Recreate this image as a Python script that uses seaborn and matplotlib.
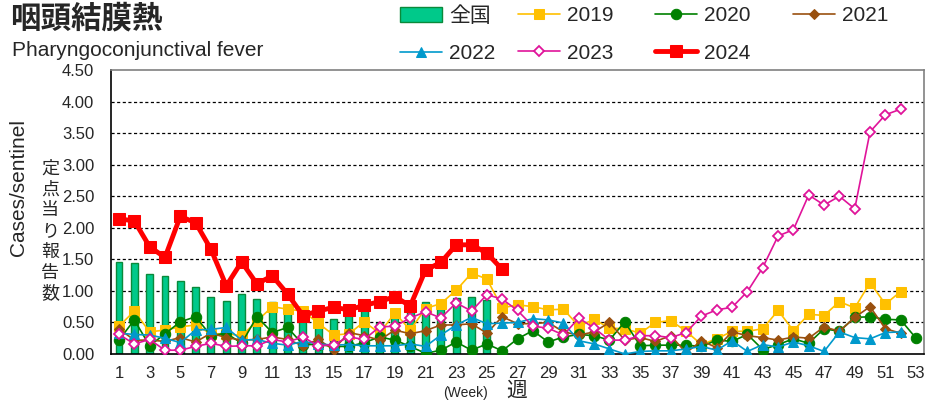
import numpy as np
import pandas as pd
import seaborn as sns
import matplotlib.pyplot as plt
from matplotlib.ticker import MultipleLocator, FormatStrFormatter

# weekly cases per sentinel
weeks = list(range(1, 54))

national = [1.45, 1.44, 1.27, 1.24, 1.15, 1.06, 0.90, 0.84, 0.95, 0.87,
            0.83, 0.72, 0.55, 0.57, 0.55, 0.63, 0.70, 0.49, 0.58, 0.68,
            0.82, 0.72, 0.88, 0.91, 0.86]

y2019 = [0.44, 0.68, 0.35, 0.38, 0.43, 0.46, 0.32, 0.32, 0.29, 0.52,
         0.75, 0.71, 0.68, 0.49, 0.30, 0.32, 0.51, 0.33, 0.65, 0.38,
         0.72, 0.80, 1.01, 1.28, 1.19, 0.73, 0.78, 0.75, 0.70, 0.71,
         0.44, 0.55, 0.41, 0.40, 0.33, 0.50, 0.53, 0.36, 0.15, 0.24,
         0.36, 0.36, 0.40, 0.69, 0.37, 0.63, 0.61, 0.83, 0.73, 1.13,
         0.79, 0.99]

y2020 = [0.22, 0.54, 0.13, 0.32, 0.51, 0.59, 0.29, 0.33, 0.17, 0.59,
         0.34, 0.42, 0.15, 0.15, 0.12, 0.12, 0.18, 0.27, 0.22, 0.12,
         0.01, 0.06, 0.19, 0.06, 0.16, 0.05, 0.24, 0.37, 0.19, 0.27,
         0.31, 0.29, 0.22, 0.51, 0.13, 0.14, 0.14, 0.14, 0.12, 0.22,
         0.20, 0.31, 0.07, 0.15, 0.24, 0.17, 0.40, 0.36, 0.58, 0.59,
         0.55, 0.54, 0.25]

y2021 = [0.40, 0.22, 0.22, 0.20, 0.26, 0.19, 0.33, 0.26, 0.22, 0.23,
         0.27, 0.23, 0.13, 0.23, 0.07, 0.34, 0.29, 0.22, 0.38, 0.32,
         0.37, 0.46, 0.46, 0.48, 0.33, 0.59, 0.48, 0.48, 0.50, 0.35,
         0.30, 0.35, 0.50, 0.22, 0.26, 0.20, 0.29, 0.02, 0.21, 0.10,
         0.35, 0.29, 0.26, 0.22, 0.27, 0.25, 0.43, 0.36, 0.58, 0.75,
         0.40, 0.33]

y2022 = [0.33, 0.31, 0.30, 0.25, 0.18, 0.38, 0.39, 0.42, 0.22, 0.23,
         0.17, 0.14, 0.20, 0.16, 0.14, 0.15, 0.13, 0.13, 0.13, 0.16,
         0.12, 0.30, 0.46, 0.58, 0.48, 0.49, 0.50, 0.56, 0.54, 0.49,
         0.21, 0.16, 0.08, 0.00, 0.04, 0.05, 0.05, 0.08, 0.12, 0.06,
         0.21, 0.04, 0.15, 0.11, 0.19, 0.13, 0.04, 0.35, 0.26, 0.24,
         0.34, 0.35]

y2023 = [0.31, 0.16, 0.23, 0.06, 0.06, 0.12, 0.17, 0.12, 0.13, 0.13,
         0.23, 0.19, 0.27, 0.13, 0.15, 0.27, 0.23, 0.43, 0.44, 0.57,
         0.67, 0.57, 0.81, 0.68, 0.94, 0.87, 0.69, 0.44, 0.41, 0.30,
         0.57, 0.41, 0.22, 0.22, 0.29, 0.29, 0.26, 0.34, 0.60, 0.70,
         0.74, 0.99, 1.37, 1.87, 1.97, 2.52, 2.36, 2.50, 2.30, 3.52,
         3.79, 3.88]

y2024 = [2.14, 2.11, 1.70, 1.53, 2.18, 2.08, 1.66, 1.08, 1.46, 1.11,
         1.24, 0.95, 0.61, 0.68, 0.74, 0.70, 0.77, 0.83, 0.91, 0.76,
         1.33, 1.45, 1.73, 1.73, 1.60, 1.34]

sns.set_style('white')
plt.rcParams['font.family'] = ['Liberation Sans', 'Noto Sans CJK JP', 'DejaVu Sans']

fig = plt.figure(figsize=(9.4, 4.05), dpi=100)
ax = fig.add_axes([111 / 940, 1 - 354 / 405, 813 / 940, 284 / 405])

# national bars
sns.barplot(x=weeks[:len(national)], y=national, native_scale=True, width=0.45,
            color='#00C98A', saturation=1, edgecolor='#0A8A3A', linewidth=1,
            ax=ax, label='全国', zorder=2)

# one style per season
styles = {
    '2019': dict(color='#FFC000', marker='s', markersize=7, lw=1.2, mfc='#FFC000', mec='#FFC000'),
    '2020': dict(color='#008000', marker='o', markersize=7.5, lw=1.2, mfc='#008000', mec='#008000'),
    '2021': dict(color='#99500F', marker='D', markersize=5.5, lw=1.2, mfc='#99500F', mec='#99500F'),
    '2022': dict(color='#0099CC', marker='^', markersize=7.5, lw=1.2, mfc='#0099CC', mec='#0099CC'),
    '2023': dict(color='#E0149A', marker='D', markersize=5.5, lw=1.2, mfc='white', mec='#E0149A', mew=1.3),
    '2024': dict(color='#FF0000', marker='s', markersize=8, lw=3.5, mfc='#FF0000', mec='#FF0000'),
}
series = {'2019': y2019, '2020': y2020, '2021': y2021,
          '2022': y2022, '2023': y2023, '2024': y2024}

for i, (name, vals) in enumerate(series.items()):
    df = pd.DataFrame({'week': weeks[:len(vals)], 'value': vals})
    sns.lineplot(data=df, x='week', y='value', ax=ax, label=name,
                 zorder=3 + i, **styles[name])

# axes
ax.set_xlim(0.48, 53.52)
ax.set_ylim(0, 4.5)
ax.set_xticks(weeks)
ax.set_xticklabels([str(w) if w % 2 == 1 else '' for w in weeks])
ax.yaxis.set_major_locator(MultipleLocator(0.5))
ax.yaxis.set_major_formatter(FormatStrFormatter('%.2f'))
ax.tick_params(axis='x', direction='in', length=4, width=0.8, pad=9, labelsize=12)
ax.tick_params(axis='y', length=0, pad=12, labelsize=12)
ax.set_xlabel('')
ax.set_ylabel('')

for y in np.arange(0.5, 4.5, 0.5):
    ax.axhline(y, color='black', lw=0.9, ls=(0, (2.5, 2)), zorder=1)

for side in ['top', 'right']:
    ax.spines[side].set_color('#808080')
for side in ['left', 'bottom']:
    ax.spines[side].set_color('black')
for s in ax.spines.values():
    s.set_linewidth(1.2)

# legend: one small legend per column, as in the original
handles, labels = ax.get_legend_handles_labels()
lookup = dict(zip(labels, handles))
if ax.get_legend() is not None:
    ax.get_legend().remove()
columns = [(['全国', '2022'], 400), (['2019', '2023'], 518),
           (['2020', '2024'], 655), (['2021'], 793)]
for names, x0 in columns:
    fig.legend([lookup[k] for k in names], names, frameon=False,
               loc='upper left', bbox_to_anchor=(x0 / 940, 1 - 6 / 405),
               fontsize=15, handlelength=2.0, handletextpad=0.35,
               labelspacing=0.89, borderpad=0, borderaxespad=0)

# texts
fig.text(10 / 940, 1 - 18 / 405, '咽頭結膜熱', fontsize=22, fontweight='bold',
         family=['Noto Sans CJK JP'], va='center', ha='left')
fig.text(12 / 940, 1 - 50 / 405, 'Pharyngoconjunctival fever', fontsize=15,
         va='center', ha='left')
fig.text(19 / 940, 1 - 188 / 405, 'Cases/sentinel', fontsize=15, rotation=90,
         va='center', ha='center')
fig.text(50 / 940, 1 - 231 / 405, '定\n点\n当\nり\n報\n告\n数', fontsize=13,
         family=['Noto Sans CJK JP'], va='center', ha='center', linespacing=1.2)
fig.text(466 / 940, 1 - 393 / 405, '(Week)', fontsize=10, va='center', ha='center')
fig.text(517 / 940, 1 - 391 / 405, '週', fontsize=15,
         family=['Noto Sans CJK JP'], va='center', ha='center')

fig.savefig('out.png', dpi=100)
